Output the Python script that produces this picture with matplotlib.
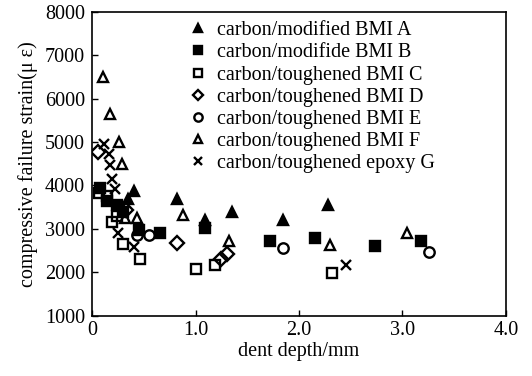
import matplotlib
matplotlib.use("Agg")
import matplotlib.pyplot as plt

plt.rcParams['font.family'] = ['Liberation Serif', 'DejaVu Serif']

labels = ["carbon/modified BMI A", "carbon/modifide BMI B", "carbon/toughened BMI C",
          "carbon/toughened BMI D", "carbon/toughened BMI E", "carbon/toughened BMI F",
          "carbon/toughened epoxy G"]

A_x = [0.35, 0.41, 0.82, 1.09, 1.35, 1.85, 2.28]
A_y = [3700, 3870, 3680, 3210, 3400, 3210, 3560]

B_x = [0.08, 0.14, 0.24, 0.30, 0.45, 0.66, 1.09, 1.72, 2.15, 2.73, 3.18]
B_y = [3950, 3640, 3560, 3400, 2980, 2900, 3020, 2720, 2790, 2600, 2720]

C_x = [0.07, 0.14, 0.19, 0.24, 0.30, 0.46, 1.00, 1.19, 2.32]
C_y = [3830, 3750, 3170, 3290, 2650, 2300, 2080, 2180, 1990]

D_x = [0.06, 0.33, 0.82, 1.25, 1.30]
D_y = [4760, 3440, 2680, 2300, 2430]

E_x = [0.25, 0.43, 0.55, 1.85, 3.26]
E_y = [3550, 2860, 2860, 2560, 2460]

F_x = [0.11, 0.17, 0.26, 0.29, 0.32, 0.43, 0.88, 1.32, 2.30, 3.04]
F_y = [6500, 5650, 5000, 4500, 3250, 3250, 3320, 2730, 2630, 2900]

G_x = [0.12, 0.16, 0.17, 0.19, 0.22, 0.25, 0.41, 2.45]
G_y = [4950, 4720, 4480, 4150, 3920, 2900, 2580, 2160]

series = [
    (A_x, A_y, '^', 'k'),
    (B_x, B_y, 's', 'k'),
    (C_x, C_y, 's', 'none'),
    (D_x, D_y, 'D', 'none'),
    (E_x, E_y, 'o', 'none'),
    (F_x, F_y, '^', 'none'),
    (G_x, G_y, 'x', 'k'),
]

fig = plt.figure(figsize=(5.32, 3.76), dpi=100)
ax = fig.add_axes([0.1730, 0.160, 0.7780, 0.809])

for (xs, ys, m, fc), lab in zip(series, labels):
    ms = 7 if m == 'D' else 7.5
    ax.plot(xs, ys, linestyle='none', marker=m, markersize=ms, markerfacecolor=fc,
            markeredgecolor='k', markeredgewidth=1.7, color='k', label=lab)

ax.set_xlim(0, 4.0)
ax.set_ylim(1000, 8000)
ax.set_xticks([0, 1, 2, 3, 4])
ax.set_xticklabels(["0", "1.0", "2.0", "3.0", "4.0"])
ax.set_yticks(range(1000, 8001, 1000))
ax.tick_params(direction='in', labelsize=14.5, length=4, width=1, pad=5)
ax.tick_params(axis='x', pad=4)
for s in ax.spines.values():
    s.set_linewidth(1.2)

ax.set_xlabel("dent depth/mm", fontsize=14.5, labelpad=1)
ax.set_ylabel("compressive failure strain(μ ε)", fontsize=14.5, labelpad=5)

leg = ax.legend(loc='upper left', bbox_to_anchor=(0.215, 0.995), frameon=False, fontsize=14.5,
                handlelength=0.9, handletextpad=0.5, labelspacing=0.15, borderaxespad=0,
                markerscale=0.8)

fig.savefig("out.png", dpi=100)
